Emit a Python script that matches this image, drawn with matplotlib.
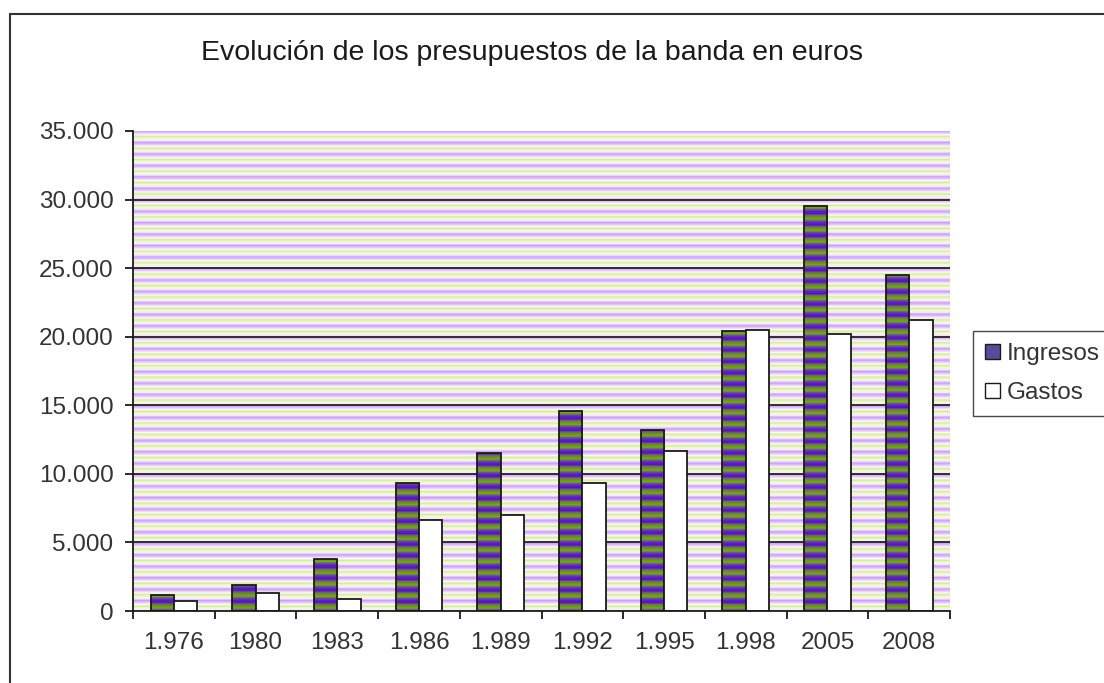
import numpy as np
import matplotlib
matplotlib.use("Agg")
import matplotlib.pyplot as plt
from matplotlib.patches import Patch, Rectangle
from matplotlib.ticker import FuncFormatter, MultipleLocator

years = ["1.976", "1980", "1983", "1.986", "1.989", "1.992", "1.995", "1.998", "2005", "2008"]
ingresos = [1200, 1900, 3800, 9300, 11500, 14600, 13200, 20400, 29500, 24500]
gastos = [750, 1300, 900, 6600, 7000, 9300, 11700, 20500, 20200, 21200]

plt.rcParams["font.family"] = ["Liberation Sans", "DejaVu Sans"]

fig = plt.figure(figsize=(11.04, 6.83), dpi=100)
ax = fig.add_axes([0.1205, 0.1054, 0.74, 0.7028])

# striped background of the plot area
bg_period = [[0.78, 0.64, 0.96], [0.90, 0.78, 0.96], [0.99, 0.97, 0.99],
             [0.84, 0.93, 0.62], [0.95, 0.98, 0.86], [0.98, 0.92, 0.98]]
bg = np.array(bg_period * 42)[:, None, :]
ax.imshow(bg, extent=[0, 1, 0, 1], transform=ax.transAxes, aspect="auto",
          interpolation="bilinear", zorder=0)

x = np.arange(len(years))
w = 0.286
ymax = 35000

for v in range(5000, ymax, 5000):
    ax.axhline(v, color="#222222", lw=1.3, zorder=1)

# striped pattern for Ingresos bars
bar_period = [[0.36, 0.12, 0.76], [0.32, 0.10, 0.70], [0.45, 0.40, 0.45],
              [0.42, 0.60, 0.08], [0.46, 0.64, 0.16], [0.42, 0.30, 0.60]]
stripes = np.array(bar_period * 42)[:, None, :]

b1 = ax.bar(x - w / 2, ingresos, w, facecolor="none", edgecolor="#1a1a1a",
            lw=1.3, zorder=3)
for rect in b1:
    x0 = rect.get_x()
    im = ax.imshow(stripes, extent=[x0, x0 + w, 0, ymax], aspect="auto",
                   interpolation="bilinear", zorder=2)
    im.set_clip_path(rect)
ax.bar(x + w / 2, gastos, w, facecolor="white", edgecolor="#1a1a1a",
       lw=1.3, zorder=3)

ax.set_xlim(-0.5, len(years) - 0.5)
ax.set_ylim(0, ymax)
ax.set_aspect("auto")

for s in ["top", "right"]:
    ax.spines[s].set_visible(False)
for s in ["left", "bottom"]:
    ax.spines[s].set_color("#1a1a1a")
    ax.spines[s].set_linewidth(1.3)
    ax.spines[s].set_zorder(4)

ax.set_xticks(x)
ax.set_xticklabels(years)
ax.xaxis.set_minor_locator(MultipleLocator(1, offset=0.5))
ax.tick_params(axis="x", which="major", length=0, pad=15, labelsize=17.5,
               labelcolor="#333333")
ax.tick_params(axis="x", which="minor", length=6, width=1.3, color="#1a1a1a")
ax.yaxis.set_major_locator(MultipleLocator(5000))
ax.yaxis.set_major_formatter(FuncFormatter(lambda v, p: f"{v:,.0f}".replace(",", ".")))
ax.tick_params(axis="y", length=6, width=1.3, color="#1a1a1a", pad=8,
               labelsize=17.5, labelcolor="#333333")

fig.text(0.482, 0.922, "Evolución de los presupuestos de la banda en euros",
         ha="center", va="center", fontsize=20.5, color="#1a1a1a")

handles = [Patch(facecolor="#5a4a9a", edgecolor="#1a1a1a", label="Ingresos"),
           Patch(facecolor="white", edgecolor="#1a1a1a", label="Gastos")]
fig.legend(handles=handles, loc="upper left",
           bbox_to_anchor=(973 / 1104, 1 - 331 / 683), fontsize=17.5,
           frameon=True, fancybox=False, edgecolor="#1a1a1a",
           borderaxespad=0, handlelength=0.6, handleheight=0.6,
           handletextpad=0.3, labelspacing=0.7, borderpad=0.5,
           labelcolor="#333333")

# outer chart frame (right and bottom edges fall outside the picture)
fig.patches.append(Rectangle((10 / 1104, -0.05), 1.1, 1 - 14 / 683 + 0.05,
                             transform=fig.transFigure, fill=False,
                             edgecolor="#333333", lw=1.5))

fig.savefig("out.png", dpi=100)
